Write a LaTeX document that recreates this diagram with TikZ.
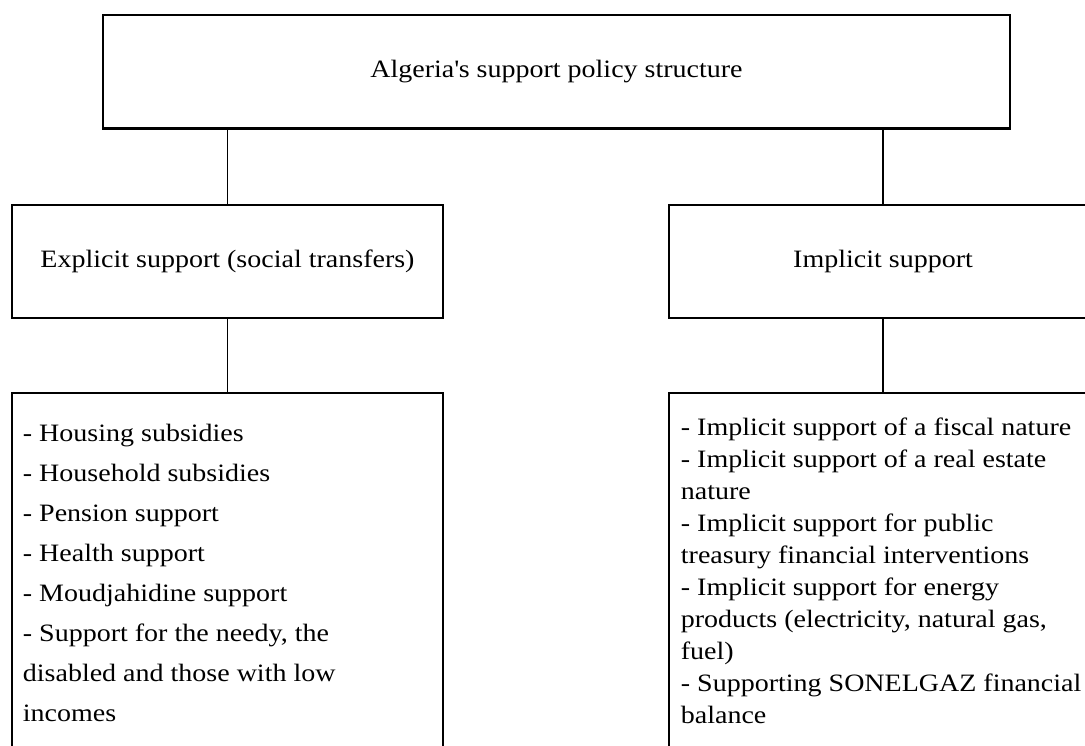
\documentclass[tikz,border=0pt]{standalone}
\usepackage{fontspec}
\setmainfont[FakeStretch=1.12]{Liberation Serif}
\begin{document}
\begin{tikzpicture}[x=1pt,y=-1pt,
  box/.style={draw, rectangle, line width=1.6pt, inner sep=0pt},
  lbl/.style={font=\fontsize{25}{32}\selectfont},
  listtext/.style={anchor=north west, inner sep=0pt, align=left},
  conn/.style={line width=1.3pt}]
\clip (0,0) rectangle (1085,745);
\node[box, line width=2.1pt, minimum width=907pt, minimum height=113.5pt, lbl] (top) at (556.5,71.75) {Algeria\textquotesingle s support policy structure};
\node[box, minimum width=431pt, minimum height=113pt, lbl] (midL) at (227.5,261.2) {Explicit support (social transfers)};
\node[box, minimum width=428pt, minimum height=113pt, lbl] (midR) at (883,261.2) {Implicit support};
\node[box, minimum width=431pt, minimum height=420pt] (botL) at (227.5,603) {};
\node[box, minimum width=428pt, minimum height=420pt] (botR) at (883,603) {};
\node[listtext, font=\fontsize{25}{40}\selectfont] (listL) at (22.7,421.7) {\rule{0pt}{20pt}- Housing subsidies\\
- Household subsidies\\
- Pension support\\
- Health support\\
- Moudjahidine support\\
- Support for the needy, the\\
disabled and those with low\\
incomes};
\node[listtext, font=\fontsize{25}{32}\selectfont] (listR) at (680.7,415) {\rule{0pt}{20pt}- Implicit support of a fiscal nature\\
- Implicit support of a real estate\\
nature\\
- Implicit support for public\\
treasury financial interventions\\
- Implicit support for energy\\
products (electricity, natural gas,\\
fuel)\\
- Supporting SONELGAZ financial\\
balance};
\draw[conn] (top.south -| midL.north) -- (midL.north);
\draw[conn] (top.south -| midR.north) -- (midR.north);
\draw[conn] (midL.south) -- (botL.north);
\draw[conn] (midR.south) -- (botR.north);
\end{tikzpicture}
\end{document}
